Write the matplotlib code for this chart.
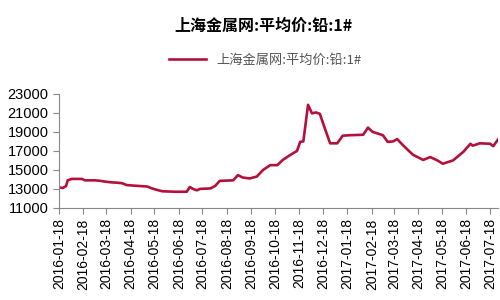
import matplotlib
matplotlib.use('Agg')
import pandas as pd
import matplotlib.pyplot as plt
import matplotlib.dates as mdates

plt.rcParams['font.family'] = ['Liberation Sans', 'Noto Sans CJK SC', 'DejaVu Sans']

# Lead price (SMM average, Pb 1#)
dates = [
    '2016-01-18', '2016-01-23', '2016-01-27', '2016-01-29', '2016-02-03', '2016-02-16',
    '2016-02-20', '2016-03-04', '2016-03-10', '2016-03-14', '2016-03-23', '2016-04-01',
    '2016-04-07', '2016-04-13', '2016-04-21', '2016-04-30', '2016-05-09', '2016-05-15',
    '2016-05-21', '2016-05-28', '2016-06-13', '2016-06-28', '2016-07-02', '2016-07-06',
    '2016-07-11', '2016-07-15', '2016-07-28', '2016-08-03', '2016-08-09', '2016-08-26',
    '2016-09-01', '2016-09-07', '2016-09-16', '2016-09-25', '2016-10-03', '2016-10-12',
    '2016-10-21', '2016-10-28', '2016-11-06', '2016-11-15', '2016-11-19', '2016-11-23',
    '2016-11-29', '2016-12-04', '2016-12-09', '2016-12-14', '2016-12-21', '2016-12-27',
    '2017-01-05', '2017-01-12', '2017-01-21', '2017-02-07', '2017-02-13', '2017-02-19',
    '2017-03-04', '2017-03-10', '2017-03-17', '2017-03-22', '2017-03-30', '2017-04-11',
    '2017-04-24', '2017-05-03', '2017-05-12', '2017-05-19', '2017-06-01', '2017-06-14',
    '2017-06-23', '2017-06-26', '2017-07-05', '2017-07-18', '2017-07-22', '2017-07-28',
]
prices = [
    13150, 13100, 13300, 13900, 14050, 14050,
    13900, 13900, 13850, 13800, 13700, 13650,
    13600, 13400, 13350, 13300, 13250, 13050,
    12900, 12750, 12700, 12700, 13200, 13000,
    12850, 13000, 13050, 13300, 13850, 13900,
    14450, 14200, 14100, 14300, 15000, 15500,
    15500, 16050, 16550, 17000, 17950, 18000,
    21850, 20950, 21050, 20900, 19200, 17800,
    17800, 18600, 18650, 18700, 19450, 19000,
    18650, 17950, 18000, 18250, 17550, 16600,
    16050, 16350, 16000, 15650, 16000, 16900,
    17750, 17550, 17800, 17750, 17500, 18200,
]
# monthly ticks on the 18th
tick_dates = pd.date_range('2016-01-01', '2017-07-01', freq='MS') + pd.Timedelta(days=17)

label = '上海金属网:平均价:铅:1#'
x = pd.to_datetime(dates)

fig = plt.figure(figsize=(5, 3), dpi=100)
ax = fig.add_axes([0.118, 0.307, 0.878, 0.38])
line, = ax.plot(x, prices, color='#B5103C', linewidth=1.9)

ax.set_ylim(11000, 23000)
ax.set_yticks(range(11000, 23001, 2000))
ax.set_xlim(pd.Timestamp('2016-01-18'), pd.Timestamp('2017-07-28'))
ax.set_xticks(tick_dates)
ax.xaxis.set_major_formatter(mdates.DateFormatter('%Y-%m-%d'))
ax.tick_params(axis='x', rotation=90, labelsize=10, length=4, color='#888888')
ax.tick_params(axis='y', labelsize=10.5, length=4, color='#888888')
for s in ['top', 'right']:
    ax.spines[s].set_visible(False)
for s in ['left', 'bottom']:
    ax.spines[s].set_color('#888888')

fig.text(0.527, 0.915, label, ha='center', va='center', fontsize=11.5,
         fontweight='bold', family=['Noto Sans CJK SC', 'DejaVu Sans'])
fig.legend([line], [label], loc='center', bbox_to_anchor=(0.53, 0.80), frameon=False,
           prop={'family': ['Noto Sans CJK SC', 'DejaVu Sans'], 'size': 9.5},
           labelcolor='#555555', handlelength=2.8)

fig.savefig('out.png', dpi=100)
